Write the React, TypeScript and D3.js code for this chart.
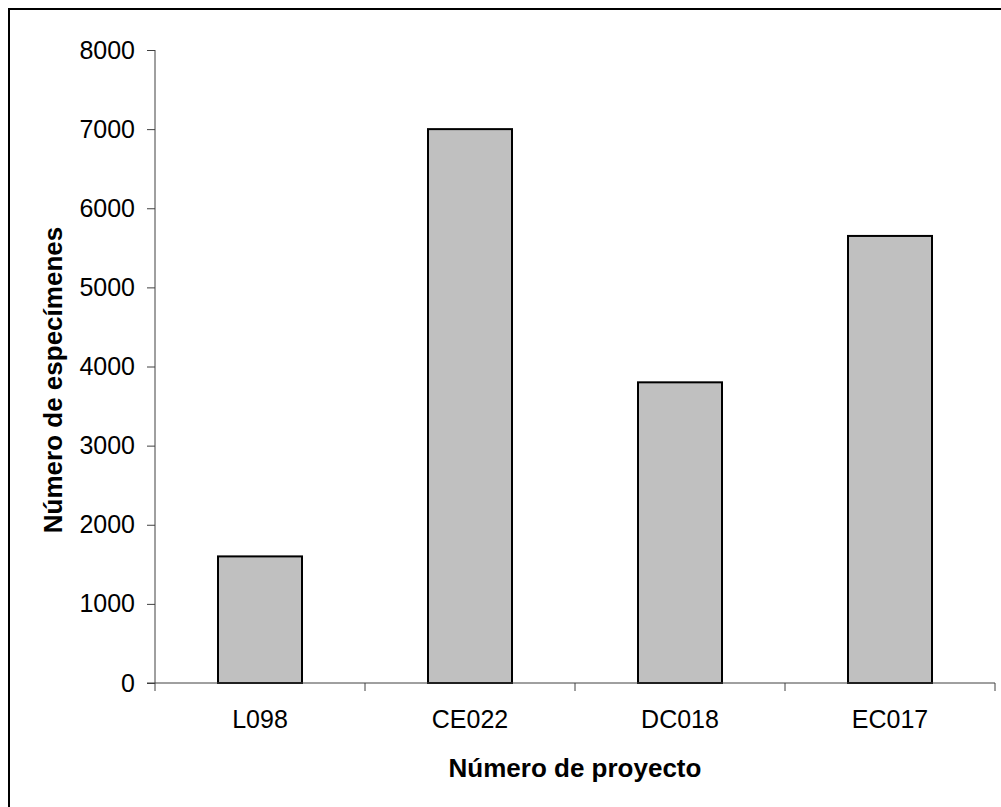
import { useEffect, useRef } from 'react';
import * as d3 from 'd3';

const projects = ['L098', 'CE022', 'DC018', 'EC017'];
const specimens = [1600, 7000, 3800, 5650];
const yTicks = [0, 1000, 2000, 3000, 4000, 5000, 6000, 7000, 8000];

const W = 1001;
const H = 807;

export default function App() {
  const svgRef = useRef<SVGSVGElement>(null);

  useEffect(() => {
    if (!svgRef.current) return;
    const svg = d3.select(svgRef.current);
    svg.selectAll('*').remove();

    const plot = { left: 155, right: 995, top: 50, bottom: 683 };
    const font = 'Arial, "Liberation Sans", sans-serif';

    // outer frame, runs off the page on the right and bottom
    svg.append('rect')
      .attr('x', 9).attr('y', 9)
      .attr('width', W).attr('height', H)
      .attr('fill', 'white')
      .attr('stroke', 'black')
      .attr('stroke-width', 2);

    const x = d3.scaleBand<string>()
      .domain(projects)
      .range([plot.left, plot.right])
      .paddingInner(0.6)
      .paddingOuter(0.3);

    const band = d3.scaleBand<string>()
      .domain(projects)
      .range([plot.left, plot.right]);

    const y = d3.scaleLinear()
      .domain([0, 8000])
      .range([plot.bottom, plot.top]);

    const g = svg.append('g');

    // bars
    g.selectAll('.bar')
      .data(projects)
      .join('rect')
      .attr('class', 'bar')
      .attr('x', d => x(d)!)
      .attr('y', (_, i) => y(specimens[i]))
      .attr('width', x.bandwidth())
      .attr('height', (_, i) => y(0) - y(specimens[i]))
      .attr('fill', '#c0c0c0')
      .attr('stroke', 'black')
      .attr('stroke-width', 2);

    // y axis
    const yAxis = g.append('g')
      .attr('transform', `translate(${plot.left},0)`)
      .call(d3.axisLeft(y).tickValues(yTicks).tickSize(8).tickPadding(12).tickFormat(d => String(d)));
    yAxis.select('.domain').attr('stroke', '#404040').attr('d', `M0,${plot.top}V${plot.bottom}`);
    yAxis.selectAll('line').attr('stroke', '#404040');
    yAxis.selectAll('text')
      .attr('fill', 'black')
      .style('font-size', '25px')
      .style('font-family', font);

    // x axis with ticks at band boundaries
    const xAxis = g.append('g')
      .attr('transform', `translate(0,${plot.bottom})`);
    xAxis.append('line')
      .attr('x1', plot.left - 8).attr('x2', plot.right)
      .attr('stroke', '#404040');
    const bounds = [...projects.map(p => band(p)!), plot.right];
    xAxis.selectAll('.xt')
      .data(bounds)
      .join('line')
      .attr('class', 'xt')
      .attr('x1', d => d).attr('x2', d => d)
      .attr('y1', 0).attr('y2', 8)
      .attr('stroke', '#404040');
    xAxis.selectAll('.xl')
      .data(projects)
      .join('text')
      .attr('class', 'xl')
      .attr('x', d => band(d)! + band.bandwidth() / 2)
      .attr('y', 45)
      .attr('text-anchor', 'middle')
      .style('font-size', '25px')
      .style('font-family', font)
      .text(d => d);

    // titles
    svg.append('text')
      .attr('x', (plot.left + plot.right) / 2)
      .attr('y', 777)
      .attr('text-anchor', 'middle')
      .style('font-size', '26px')
      .style('font-weight', 'bold')
      .style('font-family', font)
      .text('Número de proyecto');

    svg.append('text')
      .attr('transform', `translate(62,380) rotate(-90)`)
      .attr('text-anchor', 'middle')
      .style('font-size', '26px')
      .style('font-weight', 'bold')
      .style('font-family', font)
      .text('Número de especímenes');
  }, []);

  return (
    <div style={{ position: 'absolute', left: 0, top: 0, width: W, height: H, overflow: 'hidden', background: 'white' }}>
      <svg ref={svgRef} width={W} height={H} />
    </div>
  );
}
